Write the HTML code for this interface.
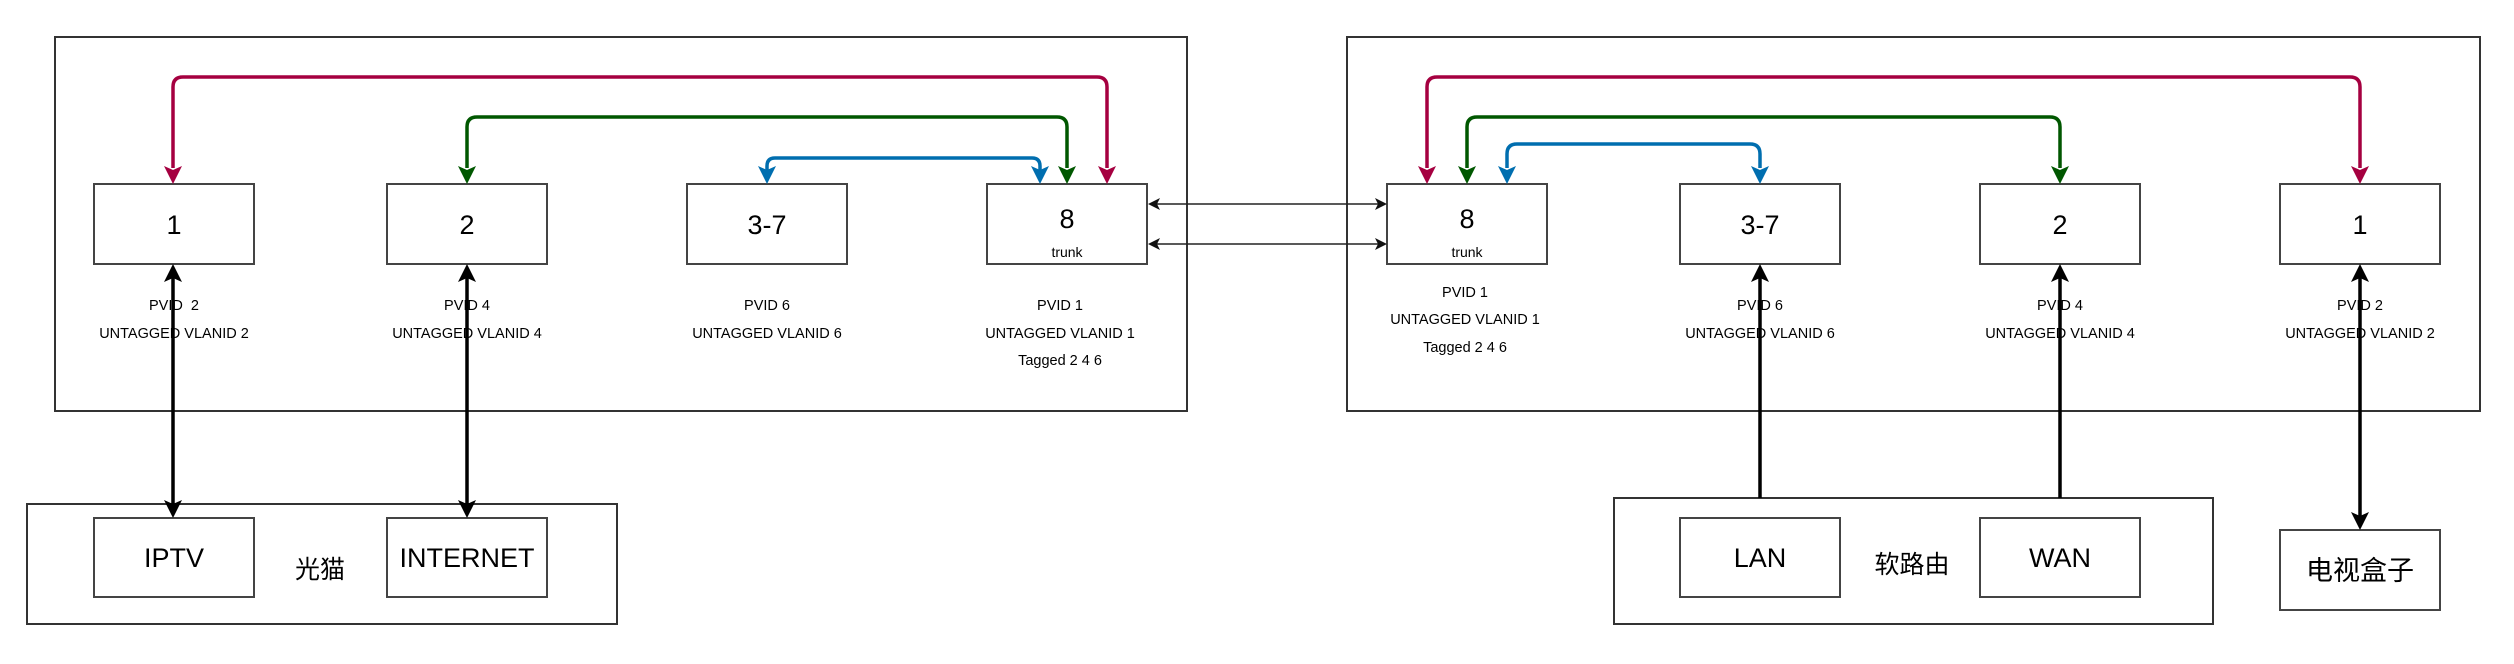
<!DOCTYPE html>
<html><head><meta charset="utf-8"><style>
html,body{margin:0;padding:0;background:#fff;}
svg{display:block;}
text{font-family:"Liberation Sans","Noto Sans CJK SC",sans-serif;fill:#000;text-anchor:middle;}
.b{fill:#fff;stroke:#444;stroke-width:2;}
.o{fill:none;stroke:#333;stroke-width:2;}
</style></head><body>
<svg width="2514" height="664" viewBox="0 0 2514 664" xmlns="http://www.w3.org/2000/svg">
<!-- outer boxes -->
<rect class="o" x="55" y="37" width="1132" height="374"/>
<rect class="o" x="1347" y="37" width="1133" height="374"/>
<rect class="o" x="27" y="504" width="590" height="120"/>
<rect class="o" x="1614" y="498" width="599" height="126"/>

<!-- port boxes left -->
<rect class="b" x="94" y="184" width="160" height="80"/>
<rect class="b" x="387" y="184" width="160" height="80"/>
<rect class="b" x="687" y="184" width="160" height="80"/>
<rect class="b" x="987" y="184" width="160" height="80"/>
<!-- right -->
<rect class="b" x="1387" y="184" width="160" height="80"/>
<rect class="b" x="1680" y="184" width="160" height="80"/>
<rect class="b" x="1980" y="184" width="160" height="80"/>
<rect class="b" x="2280" y="184" width="160" height="80"/>
<!-- devices -->
<rect class="b" x="94" y="518" width="160" height="79"/>
<rect class="b" x="387" y="518" width="160" height="79"/>
<rect class="b" x="1680" y="518" width="160" height="79"/>
<rect class="b" x="1980" y="518" width="160" height="79"/>
<rect class="b" x="2280" y="530" width="160" height="80"/>

<!-- colored connectors -->
<g fill="none" stroke-width="3.5">
<path stroke="#A50040" d="M173 168 V87 Q173 77 183 77 H1097 Q1107 77 1107 87 V168"/>
<path stroke="#005700" d="M467 168 V127 Q467 117 477 117 H1057 Q1067 117 1067 127 V168"/>
<path stroke="#006EAF" d="M767 170 V166 Q767 158 775 158 H1032 Q1040 158 1040 166 V170"/>
<path stroke="#A50040" d="M1427 168 V87 Q1427 77 1437 77 H2350 Q2360 77 2360 87 V168"/>
<path stroke="#005700" d="M1467 168 V127 Q1467 117 1477 117 H2050 Q2060 117 2060 127 V168"/>
<path stroke="#006EAF" d="M1507 168 V154 Q1507 144 1517 144 H1750 Q1760 144 1760 154 V168"/>
</g>
<g>
<polygon fill="#A50040" points="173,184 164,166 173,170 182,166"/>
<polygon fill="#A50040" points="1107,184 1098,166 1107,170 1116,166"/>
<polygon fill="#005700" points="467,184 458,166 467,170 476,166"/>
<polygon fill="#005700" points="1067,184 1058,166 1067,170 1076,166"/>
<polygon fill="#006EAF" points="767,184 758,166 767,170 776,166"/>
<polygon fill="#006EAF" points="1040,184 1031,166 1040,170 1049,166"/>
<polygon fill="#A50040" points="1427,184 1418,166 1427,170 1436,166"/>
<polygon fill="#A50040" points="2360,184 2351,166 2360,170 2369,166"/>
<polygon fill="#005700" points="1467,184 1458,166 1467,170 1476,166"/>
<polygon fill="#005700" points="2060,184 2051,166 2060,170 2069,166"/>
<polygon fill="#006EAF" points="1507,184 1498,166 1507,170 1516,166"/>
<polygon fill="#006EAF" points="1760,184 1751,166 1760,170 1769,166"/>
</g>

<!-- trunk links -->
<g stroke="#222" stroke-width="1.5">
<line x1="1152" y1="204" x2="1382" y2="204"/>
<line x1="1152" y1="244" x2="1382" y2="244"/>
</g>
<g fill="#111">
<polygon points="1148,204 1160,198 1157,204 1160,210"/>
<polygon points="1148,244 1160,238 1157,244 1160,250"/>
<polygon points="1387,204 1375,198 1378,204 1375,210"/>
<polygon points="1387,244 1375,238 1378,244 1375,250"/>
</g>

<!-- black vertical connectors -->
<g stroke="#000" stroke-width="3.5">
<line x1="173" y1="276" x2="173" y2="506"/>
<line x1="467" y1="276" x2="467" y2="506"/>
<line x1="1760" y1="276" x2="1760" y2="498"/>
<line x1="2060" y1="276" x2="2060" y2="498"/>
<line x1="2360" y1="276" x2="2360" y2="518"/>
</g>
<g fill="#000">
<polygon points="173,264 164,282 173,278 182,282"/>
<polygon points="173,518 164,500 173,504 182,500"/>
<polygon points="467,264 458,282 467,278 476,282"/>
<polygon points="467,518 458,500 467,504 476,500"/>
<polygon points="1760,264 1751,282 1760,278 1769,282"/>
<polygon points="2060,264 2051,282 2060,278 2069,282"/>
<polygon points="2360,264 2351,282 2360,278 2369,282"/>
<polygon points="2360,530 2351,512 2360,516 2369,512"/>
</g>

<!-- box labels -->
<g font-size="27">
<text x="174" y="234">1</text>
<text x="467" y="234">2</text>
<text x="767" y="234">3-7</text>
<text x="1067" y="228">8</text>
<text x="1467" y="228">8</text>
<text x="1760" y="234">3-7</text>
<text x="2060" y="234">2</text>
<text x="2360" y="234">1</text>
<text x="174" y="567">IPTV</text>
<text x="467" y="567">INTERNET</text>
<text x="1760" y="567">LAN</text>
<text x="2060" y="567">WAN</text>
<text x="2360" y="580">电视盒子</text>
</g>
<g font-size="25">
<text x="320" y="578">光猫</text>
<text x="1912" y="573">软路由</text>
</g>
<g font-size="14">
<text x="1067" y="257">trunk</text>
<text x="1467" y="257">trunk</text>
</g>
<!-- VLAN labels -->
<g font-size="14.5">
<text x="174" y="310" xml:space="preserve">PVID  2</text>
<text x="174" y="338">UNTAGGED VLANID 2</text>
<text x="467" y="310">PVID 4</text>
<text x="467" y="338">UNTAGGED VLANID 4</text>
<text x="767" y="310">PVID 6</text>
<text x="767" y="338">UNTAGGED VLANID 6</text>
<text x="1060" y="310">PVID 1</text>
<text x="1060" y="338">UNTAGGED VLANID 1</text>
<text x="1060" y="365">Tagged 2 4 6</text>
<text x="1465" y="297">PVID 1</text>
<text x="1465" y="324">UNTAGGED VLANID 1</text>
<text x="1465" y="352">Tagged 2 4 6</text>
<text x="1760" y="310">PVID 6</text>
<text x="1760" y="338">UNTAGGED VLANID 6</text>
<text x="2060" y="310">PVID 4</text>
<text x="2060" y="338">UNTAGGED VLANID 4</text>
<text x="2360" y="310">PVID 2</text>
<text x="2360" y="338">UNTAGGED VLANID 2</text>
</g>
</svg>
</body></html>
